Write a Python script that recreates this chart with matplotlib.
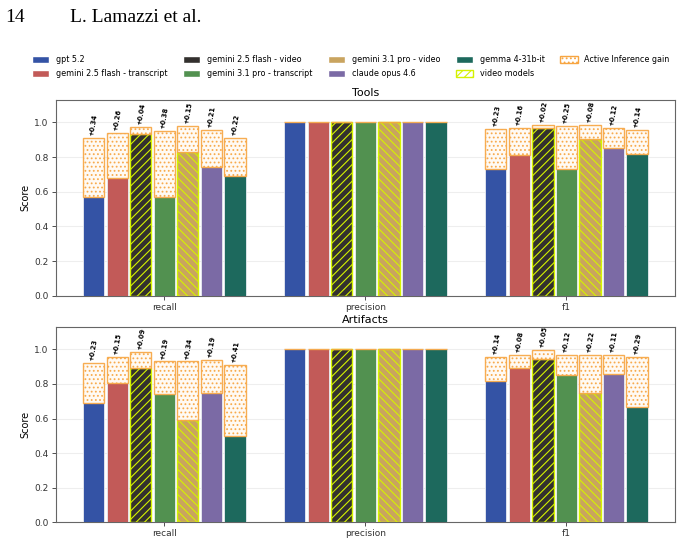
import numpy as np
import matplotlib
matplotlib.use("Agg")
import matplotlib.pyplot as plt
from matplotlib.patches import Patch

plt.rcParams['font.family'] = ['DejaVu Sans']
plt.rcParams['hatch.linewidth'] = 0.8

metrics = ["recall", "precision", "f1"]
models = ["gpt 5.2", "gemini 2.5 flash - transcript", "gemini 2.5 flash - video",
          "gemini 3.1 pro - transcript", "gemini 3.1 pro - video", "claude opus 4.6",
          "gemma 4-31b-it"]
colors = ["#3453a5", "#c25a58", "#33302e", "#529150", "#c9a45f", "#7b6aa5", "#1d695d"]
video = [False, False, True, False, True, False, False]
video_hatch = [None, None, "////", None, "\\\\\\\\", None, None]

# base scores per model: [recall, precision, f1]
tools_base = {
    "gpt 5.2": [0.57, 1.0, 0.73],
    "gemini 2.5 flash - transcript": [0.68, 1.0, 0.81],
    "gemini 2.5 flash - video": [0.935, 1.0, 0.965],
    "gemini 3.1 pro - transcript": [0.57, 1.0, 0.73],
    "gemini 3.1 pro - video": [0.83, 1.0, 0.905],
    "claude opus 4.6": [0.745, 1.0, 0.85],
    "gemma 4-31b-it": [0.69, 1.0, 0.815],
}
tools_gain = {
    "gpt 5.2": [0.34, 0.0, 0.23],
    "gemini 2.5 flash - transcript": [0.26, 0.0, 0.16],
    "gemini 2.5 flash - video": [0.04, 0.0, 0.02],
    "gemini 3.1 pro - transcript": [0.38, 0.0, 0.25],
    "gemini 3.1 pro - video": [0.15, 0.0, 0.08],
    "claude opus 4.6": [0.21, 0.0, 0.12],
    "gemma 4-31b-it": [0.22, 0.0, 0.14],
}
artifacts_base = {
    "gpt 5.2": [0.69, 1.0, 0.815],
    "gemini 2.5 flash - transcript": [0.805, 1.0, 0.89],
    "gemini 2.5 flash - video": [0.895, 1.0, 0.945],
    "gemini 3.1 pro - transcript": [0.74, 1.0, 0.85],
    "gemini 3.1 pro - video": [0.59, 1.0, 0.745],
    "claude opus 4.6": [0.75, 1.0, 0.855],
    "gemma 4-31b-it": [0.50, 1.0, 0.665],
}
artifacts_gain = {
    "gpt 5.2": [0.23, 0.0, 0.14],
    "gemini 2.5 flash - transcript": [0.15, 0.0, 0.08],
    "gemini 2.5 flash - video": [0.09, 0.0, 0.05],
    "gemini 3.1 pro - transcript": [0.19, 0.0, 0.12],
    "gemini 3.1 pro - video": [0.34, 0.0, 0.22],
    "claude opus 4.6": [0.19, 0.0, 0.11],
    "gemma 4-31b-it": [0.41, 0.0, 0.29],
}

orange = "#f7a541"
lime = "#d4f200"

fig = plt.figure(figsize=(6.82, 5.42), dpi=100)

# page header
fig.text(0.007, 0.967, "14", fontsize=14, family="Liberation Serif", va="center")
fig.text(0.103, 0.967, "L. Lamazzi et al.", fontsize=14, family="Liberation Serif", va="center")

x = np.arange(len(metrics))
step = 0.117
width = 0.106


def draw_panel(ax, base, gain, title):
    for i, m in enumerate(models):
        pos = x + (i - 3) * step
        b = base[m]
        g = gain[m]
        if video[i]:
            ax.bar(pos, b, width, color=colors[i], edgecolor=lime, hatch=video_hatch[i],
                   linewidth=1.0, zorder=3)
        else:
            ax.bar(pos, b, width, color=colors[i], edgecolor="#e8ecf2", linewidth=0.6, zorder=3)
        ax.bar(pos, g, width, bottom=b, facecolor="#fffaf3", edgecolor=orange, hatch="....",
               linewidth=1.0, alpha=0.9, zorder=3)
        for xp, bb, gg in zip(pos, b, g):
            if gg > 0:
                ax.text(xp, bb + gg + 0.01, "+%.2f" % gg, rotation=80, fontsize=4.8,
                        fontweight="bold", ha="center", va="bottom", zorder=4)
    ax.set_xlim(-0.54, 2.54)
    ax.set_ylim(0, 1.13)
    ax.set_xticks(x)
    ax.set_xticklabels(metrics, fontsize=6.5)
    ax.set_yticks([0, 0.2, 0.4, 0.6, 0.8, 1.0])
    ax.set_yticklabels(["0.0", "0.2", "0.4", "0.6", "0.8", "1.0"], fontsize=6.5)
    ax.tick_params(length=3, width=0.6, pad=2, colors="#333333")
    ax.set_ylabel("Score", fontsize=7, labelpad=3)
    ax.set_title(title, fontsize=8, pad=3)
    ax.grid(axis="y", color="#eeeeee", linewidth=0.8, zorder=0)
    ax.set_axisbelow(True)
    for s in ax.spines.values():
        s.set_color("#666666")
        s.set_linewidth(0.8)


ax1 = fig.add_axes([0.0817, 0.454, 0.908, 0.362])
draw_panel(ax1, tools_base, tools_gain, "Tools")
ax2 = fig.add_axes([0.0817, 0.036, 0.908, 0.361])
draw_panel(ax2, artifacts_base, artifacts_gain, "Artifacts")

handles = [Patch(facecolor=c, edgecolor="white", label=m) for m, c in zip(models, colors)]
handles.append(Patch(facecolor="white", edgecolor=lime, hatch="////", label="video models"))
handles.append(Patch(facecolor="white", edgecolor=orange, hatch="....", label="Active Inference gain"))
fig.legend(handles=handles, ncol=5, loc="center", bbox_to_anchor=(0.514, 0.877),
           fontsize=5.8, frameon=False, handlelength=2.2, handleheight=1.0,
           columnspacing=1.9, labelspacing=0.6)

fig.savefig("out.png", dpi=100)
